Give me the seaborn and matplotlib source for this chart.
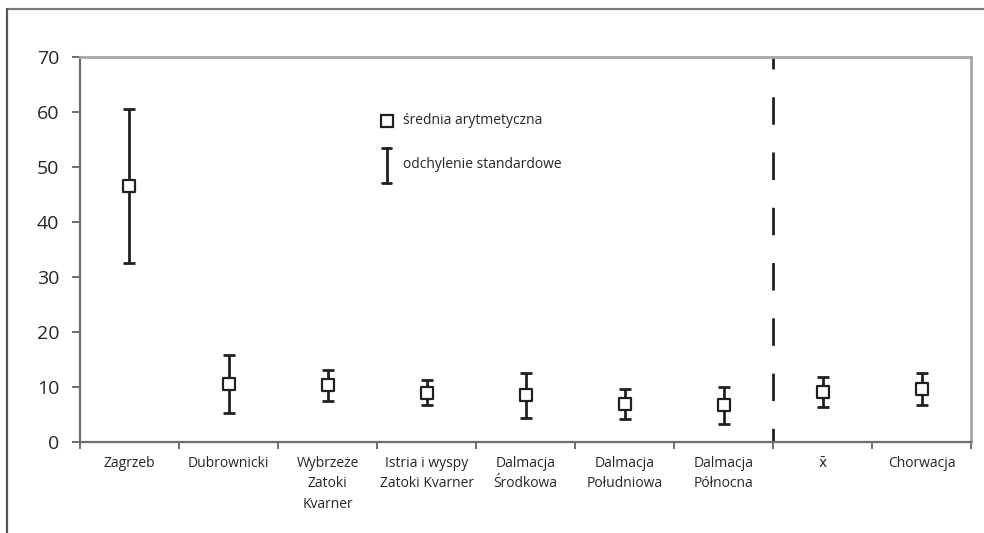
import pandas as pd
import matplotlib.pyplot as plt
import seaborn as sns
from matplotlib.lines import Line2D


regions = ["Zagrzeb", "Dubrownicki", "Wybrzeże\nZatoki\nKvarner",
           "Istria i wyspy\nZatoki Kvarner", "Dalmacja\nŚrodkowa",
           "Dalmacja\nPołudniowa", "Dalmacja\nPółnocna", "x̄", "Chorwacja"]
means = [46.5, 10.6, 10.3, 9.0, 8.5, 6.9, 6.7, 9.15, 9.6]
stds = [14.0, 5.3, 2.85, 2.2, 4.1, 2.8, 3.35, 2.75, 2.9]
yticks = [0, 10, 20, 30, 40, 50, 60, 70]

df = pd.DataFrame({"region": regions, "mean": means, "sd": stds})

sns.set_style("white")
plt.rcParams['font.family'] = ['Open Sans', 'DejaVu Sans']

fig = plt.figure(figsize=(9.84, 5.33), dpi=100)
ax = fig.add_axes([0.0813, 0.1707, 0.9055, 0.7223])

dark = "#231f20"
pos = list(range(len(regions)))

ax.errorbar(pos, df["mean"], yerr=df["sd"], fmt="none", ecolor=dark,
            elinewidth=2, capsize=4.5, capthick=2, zorder=2)
sns.scatterplot(x=pos, y=df["mean"], marker="s", s=70, color="white",
                edgecolor=dark, linewidth=1.6, zorder=3, ax=ax)

# separator between regions and summary columns
ax.axvline(6.5, color=dark, linewidth=2, linestyle=(5, (9.9, 10)), zorder=1)

ax.set_xlim(-0.5, len(regions) - 0.5)
ax.set_ylim(0, 70)
ax.set_yticks(yticks)
ax.set_xticks(pos)
ax.set_xticklabels(regions, fontsize=10, linespacing=1.5, color="#262626")
# combining macron sits properly only in DejaVu
ax.get_xticklabels()[7].set_family("DejaVu Sans")
ax.set_xticks([p - 0.5 for p in pos] + [len(regions) - 0.5], minor=True)
ax.tick_params(axis="x", which="major", length=0, pad=10)
ax.tick_params(axis="x", which="minor", length=5, width=1.2, color="#555555",
               bottom=True)
ax.tick_params(axis="y", length=6, width=1.2, color="#555555", left=True,
               labelsize=14, pad=9, labelcolor="#262626")
ax.set_xlabel("")
ax.set_ylabel("")

for side in ["left", "bottom"]:
    ax.spines[side].set_color("#6e6e6e")
    ax.spines[side].set_linewidth(1.6)
for side in ["top", "right"]:
    ax.spines[side].set_color("#a6a6a6")
    ax.spines[side].set_linewidth(2)

# hand-drawn legend
ax.plot([0.3443], [0.835], marker="s", markersize=8, markerfacecolor="white",
        markeredgecolor=dark, markeredgewidth=1.6, transform=ax.transAxes,
        clip_on=False)
ax.text(0.363, 0.835, "średnia arytmetyczna", fontsize=10, va="center",
        color="#262626", transform=ax.transAxes)
ax.plot([0.3443, 0.3443], [0.672, 0.763], color=dark, linewidth=2,
        transform=ax.transAxes)
for yy in [0.672, 0.763]:
    ax.plot([0.3393, 0.3493], [yy, yy], color=dark, linewidth=2,
            transform=ax.transAxes)
ax.text(0.363, 0.72, "odchylenie standardowe", fontsize=10, va="center",
        color="#262626", transform=ax.transAxes)

# outer frame
fig.add_artist(Line2D([0.0071, 1.0], [0.983, 0.983], color="#7a7a7a",
                      linewidth=1.6))
fig.add_artist(Line2D([0.0071, 0.0071], [0.0, 0.983], color="#555555",
                      linewidth=1.6))

fig.savefig("out.png", dpi=100)
